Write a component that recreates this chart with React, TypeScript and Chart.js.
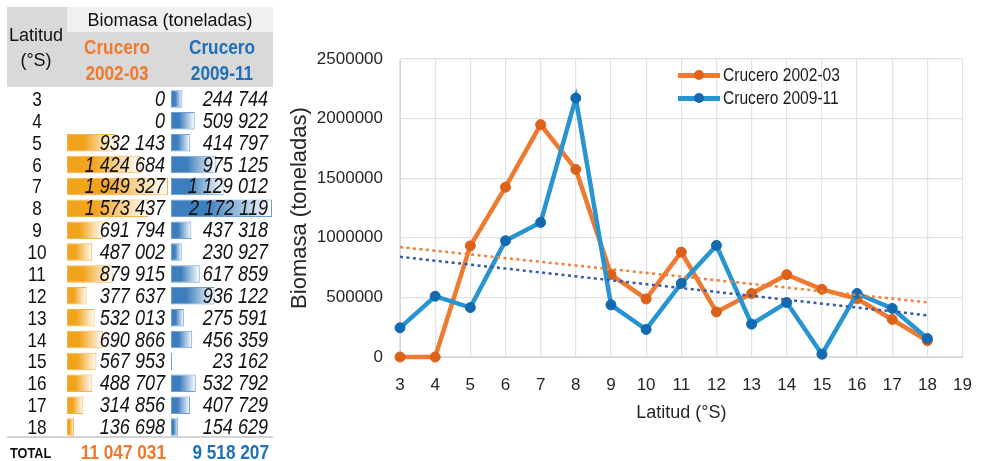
import React, { useEffect, useRef } from 'react';
import { Chart, registerables } from 'chart.js';

Chart.register(...registerables);

// Latitude bands (°S) and biomass per cruise (tonnes)
const latitudes = [3, 4, 5, 6, 7, 8, 9, 10, 11, 12, 13, 14, 15, 16, 17, 18];
const crucero2002 = [0, 0, 932143, 1424684, 1949327, 1573437, 691794, 487002, 879915, 377637, 532013, 690866, 567953, 488707, 314856, 136698];
const crucero2009 = [244744, 509922, 414797, 975125, 1129012, 2172119, 437318, 230927, 617859, 936122, 275591, 456359, 23162, 532792, 407729, 154629];
const totals = [11047031, 9518207];
const seriesNames = ['Crucero 2002-03', 'Crucero 2009-11'];
const xTickRange = [3, 19];
const yTickRange = [0, 2500000];
const yTickStep = 500000;

const ORANGE_TEXT = '#EE7A2F';
const BLUE_TEXT = '#1F70B6';
const ORANGE_LINE = '#EE7A32';
const ORANGE_MARK = '#DD6219';
const BLUE_LINE = '#2894D0';
const BLUE_MARK = '#136AB0';
const ORANGE_TREND = '#F07F3A';
const BLUE_TREND = '#3559AE';

const SANS = '"Liberation Sans", Arial, sans-serif';
const SQUEEZE = 0.82; // condensed look for the table and legend lettering

const fmt = (v: number) => String(v).replace(/\B(?=(\d{3})+(?!\d))/g, '\u00a0');

// least-squares straight line through the series
function linearFit(xs: number[], ys: number[]) {
  const n = xs.length;
  const mx = xs.reduce((a, b) => a + b, 0) / n;
  const my = ys.reduce((a, b) => a + b, 0) / n;
  let sxy = 0;
  let sxx = 0;
  for (let i = 0; i < n; i++) {
    sxy += (xs[i] - mx) * (ys[i] - my);
    sxx += (xs[i] - mx) * (xs[i] - mx);
  }
  const slope = sxy / sxx;
  return (x: number) => my + slope * (x - mx);
}

const TABLE_TOP = 88;
const TABLE_H = 350;
const ROW_H = TABLE_H / latitudes.length;

function DataBars(props: { values: number[]; solid: string; edge: string; left: number }) {
  const ref = useRef<HTMLCanvasElement>(null);
  useEffect(() => {
    const { values, solid, edge } = props;
    const max = Math.max(...values);
    const chart = new Chart(ref.current as HTMLCanvasElement, {
      type: 'bar',
      data: {
        labels: latitudes.map(String),
        datasets: [
          {
            data: values,
            backgroundColor: (c: any) => {
              const xs = c.chart.scales && c.chart.scales.x;
              if (!xs || c.type !== 'data') return solid;
              const x0 = xs.getPixelForValue(0);
              const x1 = xs.getPixelForValue(c.raw);
              if (!isFinite(x0) || !isFinite(x1) || x1 - x0 < 1) return solid;
              const g = c.chart.ctx.createLinearGradient(x0, 0, x1, 0);
              g.addColorStop(0, solid);
              g.addColorStop(0.35, solid);
              g.addColorStop(1, '#FFFFFF');
              return g;
            },
            borderColor: edge,
            borderWidth: 1,
            borderSkipped: false,
            barPercentage: 0.8,
            categoryPercentage: 1,
          },
        ],
      },
      options: {
        indexAxis: 'y',
        responsive: false,
        animation: false,
        layout: { padding: { left: 1, right: 1, top: 0, bottom: 0 } },
        plugins: { legend: { display: false }, tooltip: { enabled: false } },
        scales: {
          x: { display: false, min: 0, max },
          y: { display: false },
        },
      },
    });
    return () => chart.destroy();
  }, []);
  return (
    <canvas
      ref={ref}
      width={103}
      height={TABLE_H}
      style={{ position: 'absolute', left: props.left, top: TABLE_TOP, width: 103, height: TABLE_H }}
    />
  );
}

function LineChart() {
  const ref = useRef<HTMLCanvasElement>(null);
  useEffect(() => {
    const fit02 = linearFit(latitudes, crucero2002);
    const fit09 = linearFit(latitudes, crucero2009);
    const x0 = latitudes[0];
    const x1 = latitudes[latitudes.length - 1];
    const chart = new Chart(ref.current as HTMLCanvasElement, {
      type: 'line',
      data: {
        datasets: [
          {
            label: 'Lineal (' + seriesNames[0] + ')',
            data: [{ x: x0, y: fit02(x0) }, { x: x1, y: fit02(x1) }],
            borderColor: ORANGE_TREND,
            borderWidth: 2.5,
            borderDash: [3, 3.5],
            pointRadius: 0,
          },
          {
            label: 'Lineal (' + seriesNames[1] + ')',
            data: [{ x: x0, y: fit09(x0) }, { x: x1, y: fit09(x1) }],
            borderColor: BLUE_TREND,
            borderWidth: 2.5,
            borderDash: [3, 3.5],
            pointRadius: 0,
          },
          {
            label: seriesNames[1],
            data: latitudes.map((x, i) => ({ x, y: crucero2009[i] })),
            borderColor: BLUE_LINE,
            borderWidth: 4.5,
            pointRadius: 5,
            pointBackgroundColor: BLUE_MARK,
            pointBorderColor: BLUE_MARK,
            pointBorderWidth: 1,
            clip: false,
          },
          {
            label: seriesNames[0],
            data: latitudes.map((x, i) => ({ x, y: crucero2002[i] })),
            borderColor: ORANGE_LINE,
            borderWidth: 4.5,
            pointRadius: 5,
            pointBackgroundColor: ORANGE_MARK,
            pointBorderColor: ORANGE_MARK,
            pointBorderWidth: 1,
            clip: false,
          },
        ],
      },
      options: {
        responsive: false,
        animation: false,
        layout: { padding: { left: 285, top: 59, right: 12, bottom: 0 } },
        plugins: { legend: { display: false }, tooltip: { enabled: false } },
        scales: {
          x: {
            type: 'linear',
            min: xTickRange[0],
            max: xTickRange[1],
            ticks: {
              stepSize: 1,
              padding: 18,
              color: '#262626',
              font: { family: SANS, size: 17 },
            },
            grid: { color: '#E2E2E2', lineWidth: 1.2, drawTicks: false },
            border: { color: '#D6D6D6' },
            title: {
              display: true,
              text: 'Latitud (°S)',
              color: '#262626',
              font: { family: SANS, size: 18 },
              padding: { top: 0, bottom: 37 },
            },
            afterFit: (s: any) => {
              s.height = 104;
            },
          },
          y: {
            type: 'linear',
            min: yTickRange[0],
            max: yTickRange[1],
            ticks: {
              stepSize: yTickStep,
              padding: 17,
              color: '#262626',
              font: { family: SANS, size: 17 },
              callback: (v: any) => String(v),
            },
            grid: { color: '#E2E2E2', lineWidth: 1.2, drawTicks: false },
            border: { color: '#D6D6D6' },
            title: {
              display: true,
              text: 'Biomasa (toneladas)',
              color: '#262626',
              font: { family: SANS, size: 22 },
              padding: { top: 2, bottom: 0 },
            },
            afterFit: (s: any) => {
              s.width = 115;
            },
          },
        },
      },
    });
    return () => chart.destroy();
  }, []);
  return (
    <canvas
      ref={ref}
      width={990}
      height={461}
      style={{ position: 'absolute', left: 0, top: 0, width: 990, height: 461 }}
    />
  );
}

// absolutely placed one-line label; anchor is the left, centre or right end of the text
function Label(props: {
  text: string;
  x: number;
  cy: number;
  anchor: 'left' | 'center' | 'right';
  narrow?: boolean;
  style?: any;
}) {
  const { text, x, cy, anchor, narrow, style } = props;
  const w = 240;
  const left = anchor === 'left' ? x : anchor === 'right' ? x - w : x - w / 2;
  return (
    <div
      style={{
        position: 'absolute',
        left,
        top: cy - 15,
        width: w,
        height: 30,
        lineHeight: '30px',
        textAlign: anchor,
        whiteSpace: 'nowrap',
        transform: narrow ? `scaleX(${SQUEEZE})` : undefined,
        transformOrigin: `${anchor} center`,
        ...style,
      }}
    >
      {text}
    </div>
  );
}

function LegendRow(props: { top: number; line: string; mark: string; text: string }) {
  const { top, line, mark, text } = props;
  return (
    <>
      <div style={{ position: 'absolute', left: 678, top: top - 2, width: 42, height: 4.5, background: line }} />
      <div
        style={{
          position: 'absolute',
          left: 694,
          top: top - 5,
          width: 10,
          height: 10,
          borderRadius: '50%',
          background: mark,
        }}
      />
      <Label text={text} x={723} cy={top} anchor="left" narrow style={{ fontSize: 19, color: '#1A1A1A' }} />
    </>
  );
}

export default function App() {
  const numStyle = { fontStyle: 'italic', fontSize: 22, color: '#111' };
  const headBold = { fontWeight: 'bold', fontSize: 21 };
  return (
    <div
      style={{
        position: 'fixed',
        left: 0,
        top: 0,
        width: 990,
        height: 461,
        background: '#FFFFFF',
        overflow: 'hidden',
        fontFamily: SANS,
      }}
    >
      <LineChart />

      {/* table header */}
      <div style={{ position: 'absolute', left: 7, top: 7, width: 266, height: 80, background: '#D9D9D9' }} />
      <div style={{ position: 'absolute', left: 67, top: 7, width: 206, height: 25, background: '#F0F0F0' }} />
      <Label text="Biomasa (toneladas)" x={170} cy={20} anchor="center" style={{ fontSize: 18, color: '#111' }} />
      <Label text="Latitud" x={36} cy={35} anchor="center" style={{ fontSize: 18, color: '#111' }} />
      <Label text="(°S)" x={36} cy={60} anchor="center" style={{ fontSize: 18, color: '#111' }} />
      <Label text="Crucero" x={117} cy={47} anchor="center" narrow style={{ ...headBold, color: ORANGE_TEXT }} />
      <Label text="2002-03" x={117} cy={73} anchor="center" narrow style={{ ...headBold, color: ORANGE_TEXT }} />
      <Label text="Crucero" x={222} cy={47} anchor="center" narrow style={{ ...headBold, color: BLUE_TEXT }} />
      <Label text="2009-11" x={222} cy={73} anchor="center" narrow style={{ ...headBold, color: BLUE_TEXT }} />

      {/* data bars */}
      <DataBars values={crucero2002} solid="#F2A31C" edge="#F5B24A" left={66} />
      <DataBars values={crucero2009} solid="#3D7EBE" edge="#6D9FD2" left={170} />

      {/* table body */}
      {latitudes.map((lat, i) => {
        const cy = TABLE_TOP + ROW_H * (i + 0.5);
        return (
          <React.Fragment key={lat}>
            <Label text={String(lat)} x={37} cy={cy} anchor="center" narrow style={{ fontSize: 21, color: '#111' }} />
            <Label text={fmt(crucero2002[i])} x={165} cy={cy} anchor="right" narrow style={numStyle} />
            <Label text={fmt(crucero2009[i])} x={268} cy={cy} anchor="right" narrow style={numStyle} />
          </React.Fragment>
        );
      })}

      <div style={{ position: 'absolute', left: 7, top: 436, width: 266, height: 2, background: '#D4D4D4' }} />
      <Label text="TOTAL" x={10} cy={453} anchor="left" narrow style={{ fontWeight: 'bold', fontSize: 15.5, color: '#111' }} />
      <Label text={fmt(totals[0])} x={166} cy={452} anchor="right" narrow style={{ ...headBold, color: ORANGE_TEXT }} />
      <Label text={fmt(totals[1])} x={269} cy={452} anchor="right" narrow style={{ ...headBold, color: BLUE_TEXT }} />

      {/* legend */}
      <LegendRow top={75} line={ORANGE_LINE} mark={ORANGE_MARK} text={seriesNames[0]} />
      <LegendRow top={98} line={BLUE_LINE} mark={BLUE_MARK} text={seriesNames[1]} />
    </div>
  );
}
